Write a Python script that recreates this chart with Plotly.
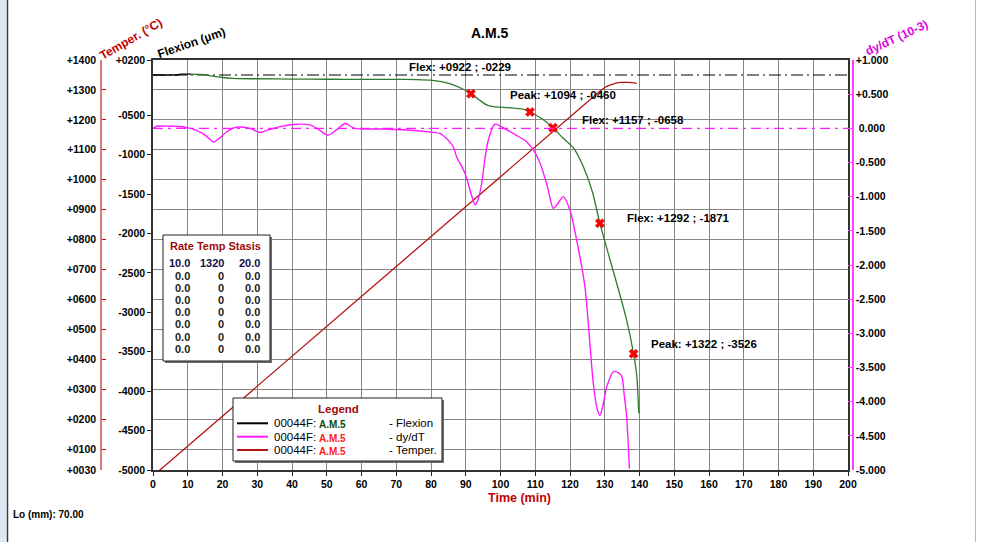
import plotly.graph_objects as go

# ---------------- data ----------------
# Flexion of sample 00044F (µm) vs time (min)
time_flex = [0, 7, 8, 11, 14, 17, 20, 23, 30, 40, 50, 60, 70, 76, 80, 83, 86, 89,
             91.5, 94, 96, 98, 100, 104, 107, 108.5, 111, 113, 115.1, 118, 121, 124,
             126.5, 128.6, 131.5, 134, 136.3, 138.3, 139.2, 139.8]
flexion_um = [10, 10, 20, 22, 18, -5, -22, -32, -38, -42, -44, -45, -45, -48, -55, -75,
              -110, -165, -229, -310, -370, -392, -398, -410, -428, -460, -520, -580,
              -658, -790, -915, -1170, -1480, -1871, -2330, -2720, -3099, -3526, -3800,
              -4280]
flex_first_segment_end = 11  # the opening stretch is drawn black

# Derivative dy/dT (10-3) vs time (min)
time_rate = [0, 1, 5, 9, 12.5, 15, 17.4, 19, 21.2, 24, 27.9, 30.8, 33.5, 36.5, 41.4,
             45.2, 48, 50.4, 52.9, 55.3, 58, 66, 76, 80.7, 82.6, 84.5, 86.4, 87.4, 89.8,
             91.5, 92.7, 93.5, 94.6, 95.5, 96.5, 98.4, 101.7, 104.5, 107.5, 109.5, 111.4,
             113.5, 115.2, 116.5, 118.1, 120, 121.9, 124.3, 125.5, 126.7, 127.8, 128.6,
             129.5, 130.6, 132.5, 134, 134.9, 135.6, 136.3, 137.1]
dydt = [0.0, 0.03, 0.03, 0.02, -0.03, -0.1, -0.2, -0.15, -0.05, 0.015, 0.0, -0.06,
        -0.02, 0.025, 0.06, 0.05, -0.03, -0.1, -0.02, 0.07, 0.0, -0.01, -0.035, -0.06,
        -0.075, -0.15, -0.27, -0.42, -0.66, -0.95, -1.12, -1.05, -0.8, -0.45, -0.17,
        0.06, -0.02, -0.1, -0.195, -0.32, -0.51, -0.85, -1.17, -1.1, -1.0, -1.2, -1.63,
        -2.32, -3.0, -3.73, -4.1, -4.2, -4.05, -3.78, -3.56, -3.58, -3.63, -3.9, -4.22,
        -4.98]

# Furnace temperature (°C) vs time (min)
time_temp = [0, 128, 130, 131.5, 133, 135, 137, 139.2]
temperature_c = [10, 1290, 1308, 1316, 1322, 1325, 1325, 1322]

# Detected events on the flexion curve
event_time = [91.5, 108.5, 115.1, 128.6, 138.3]
event_temp = [922, 1094, 1157, 1292, 1322]
event_flex = [-229, -460, -658, -1871, -3526]
event_kind = ["Flex", "Peak", "Flex", "Flex", "Peak"]

flex_baseline = 10
rate_baseline = 0.0

# Axis ticks
time_ticks = list(range(0, 210, 10))
temp_ticks = [30] + list(range(100, 1500, 100))
flex_ticks = [200] + list(range(-500, -5500, -500))
rate_ticks = [1.0, 0.5, 0.0, -0.5, -1.0, -1.5, -2.0, -2.5, -3.0, -3.5, -4.0, -4.5, -5.0]

# Heating programme table
program_rate = [10.0, 0.0, 0.0, 0.0, 0.0, 0.0, 0.0, 0.0]
program_temp = [1320, 0, 0, 0, 0, 0, 0, 0]
program_stasis = [20.0, 0.0, 0.0, 0.0, 0.0, 0.0, 0.0, 0.0]

legend_ids = ["00044F:", "00044F:", "00044F:"]
legend_sample = ["A.M.5", "A.M.5", "A.M.5"]
legend_names = ["- Flexion", "- dy/dT", "- Temper."]

# ---------------- styling ----------------
W, H = 982, 542
ML, MR, MT, MB = 10, 10, 60, 72
PW, PH = W - ML - MR, H - MT - MB
FONT = "Liberation Sans, Arial, sans-serif"

C_TEMP = "#b31212"
C_RATE = "#ff1aff"
C_FLEX = "#2e7a2e"
C_DARKRED = "#9c0a0a"


def px(x):
    return (x - ML) / PW


def py(y):
    return 1 - (y - MT) / PH


def fmt_int(v):
    return f"{v:+05d}"


def fmt_rate(v):
    return "\u00a00.000" if v == 0 else f"{v:+.3f}"


def text_at(x, y, text, size, color, bold=True, xanchor="center", angle=0):
    font = dict(family=FONT, size=size, color=color)
    if bold:
        font["weight"] = "bold"
    return dict(x=px(x), y=py(y), xref="paper", yref="paper", text=text, showarrow=False,
                xanchor=xanchor, yanchor="middle", textangle=angle, font=font)


fig = go.Figure()

# reference lines
fig.add_trace(go.Scatter(x=[0, 200], y=[flex_baseline] * 2, yaxis="y2", mode="lines",
                         line=dict(color="black", width=1.2, dash="12px,4px,2px,4px"),
                         hoverinfo="skip"))
fig.add_trace(go.Scatter(x=[0, 200], y=[rate_baseline] * 2, yaxis="y3", mode="lines",
                         line=dict(color=C_RATE, width=1.2, dash="10px,5px,3px,5px"),
                         hoverinfo="skip"))

# temperature
fig.add_trace(go.Scatter(x=time_temp, y=temperature_c, yaxis="y", mode="lines",
                         line=dict(color=C_TEMP, width=1.3, shape="spline", smoothing=0.5)))

# dy/dT
fig.add_trace(go.Scatter(x=time_rate, y=dydt, yaxis="y3", mode="lines",
                         line=dict(color=C_RATE, width=1.4, shape="spline", smoothing=0.8)))

# flexion: black opening stretch, then green
k = max(i for i, t in enumerate(time_flex) if t <= flex_first_segment_end)
fig.add_trace(go.Scatter(x=time_flex[:k + 1], y=flexion_um[:k + 1], yaxis="y2", mode="lines",
                         line=dict(color="black", width=1.3)))
fig.add_trace(go.Scatter(x=time_flex[k:], y=flexion_um[k:], yaxis="y2", mode="lines",
                         line=dict(color=C_FLEX, width=1.3, shape="spline", smoothing=0.6)))

# events
fig.add_trace(go.Scatter(x=event_time, y=event_flex, yaxis="y2", mode="markers",
                         marker=dict(symbol="x", size=8, color="#ff0000",
                                     line=dict(width=0.6, color="#cc0000"))))

label_shift = [(-64, 27), (-22, 17), (27, 8), (25, 5), (15, 10)]
annotations = []
for t, temp, fl, kind, (dx, dy) in zip(event_time, event_temp, event_flex, event_kind,
                                       label_shift):
    annotations.append(dict(x=t, y=fl, xref="x", yref="y2",
                            text=f"{kind}: {fmt_int(temp)} ; {fmt_int(fl)}",
                            showarrow=False, xanchor="left", yanchor="middle",
                            xshift=dx, yshift=dy,
                            font=dict(family=FONT, size=11.5, color="black", weight="bold")))

# titles
annotations += [
    text_at(490, 33, "A.M.5", 14, "black"),
    text_at(131, 39, "Temper. (°C)", 12, "#c40000", angle=-30),
    text_at(191, 43, "Flexion (µm)", 12, "black", angle=-19),
    text_at(896, 38, "dy/dT (10-3)", 12, "#e000e0", angle=-25),
    text_at(519, 498, "Time (min)", 12.5, "#c40000"),
    text_at(11, 514, "Lo (mm): 70.00", 10, "black", xanchor="left"),
]

shapes = []
# window border
shapes.append(dict(type="rect", xref="paper", yref="paper", x0=px(0), x1=px(6.5),
                   y0=py(H), y1=py(0), fillcolor="#dfe7f5", line=dict(width=0)))
shapes.append(dict(type="line", xref="paper", yref="paper", x0=px(7.5), x1=px(7.5),
                   y0=py(H), y1=py(0), line=dict(color="#3c3c3c", width=1.5)))
shapes.append(dict(type="line", xref="paper", yref="paper", x0=px(975.5), x1=px(975.5),
                   y0=py(H), y1=py(0), line=dict(color="#b8b8b8", width=1)))


def box(x0, y0, x1, y1):
    shapes.append(dict(type="rect", xref="paper", yref="paper", x0=px(x0 + 2), x1=px(x1 + 2),
                       y0=py(y1 + 2), y1=py(y0 + 2), fillcolor="#6e6e6e",
                       line=dict(width=0)))
    shapes.append(dict(type="rect", xref="paper", yref="paper", x0=px(x0), x1=px(x1),
                       y0=py(y1), y1=py(y0), fillcolor="white",
                       line=dict(color="#202020", width=1)))


# heating programme table
box(163, 235, 270, 361)
annotations.append(text_at(215, 246, "Rate Temp Stasis", 11, C_DARKRED))
row_y = [263.3, 275.5, 287.7, 299.9, 312.1, 324.3, 336.5, 348.7]
for i, (r, tp, s) in enumerate(zip(program_rate, program_temp, program_stasis)):
    col = "#10104a" if i == 0 else "#1a1a1a"
    for xr, txt in ((192, f"{r:.1f}"), (226, f"{tp:d}"), (262, f"{s:.1f}")):
        annotations.append(text_at(xr, row_y[i], txt, 11, col, xanchor="right"))

# legend box
box(233, 398, 442, 461)
annotations.append(text_at(338, 409, "Legend", 11.5, C_DARKRED))
legend_line_colors = ["black", C_RATE, C_TEMP]
legend_sample_colors = ["#0b4a0b", "#ff2020", "#ff2020"]
legend_y = [423.3, 436.7, 450]
for ly, lc, sc, lid, ls, ln in zip(legend_y, legend_line_colors, legend_sample_colors,
                                   legend_ids, legend_sample, legend_names):
    shapes.append(dict(type="line", xref="paper", yref="paper", x0=px(237), x1=px(268),
                       y0=py(ly), y1=py(ly), line=dict(color=lc, width=2)))
    annotations.append(text_at(271.5, ly, lid, 11.5, "black", bold=False, xanchor="left"))
    annotations.append(text_at(317, ly + 1.5, ls, 10, sc, xanchor="left"))
    annotations.append(text_at(386.5, ly, ln, 11.5, "black", bold=False, xanchor="left"))

tick_font = dict(family=FONT, size=10.5, color="black", weight="bold")

fig.update_layout(
    width=W, height=H,
    margin=dict(l=ML, r=MR, t=MT, b=MB, autoexpand=False),
    paper_bgcolor="white", plot_bgcolor="white",
    showlegend=False,
    xaxis=dict(domain=[px(153), px(848)], range=[0, 200], tickvals=time_ticks,
               ticktext=[str(v) for v in time_ticks], tickfont=tick_font,
               ticks="outside", ticklen=4, tickcolor="#222", showline=True,
               linecolor="#333", linewidth=1.5, mirror=True, showgrid=True,
               gridcolor="#858585", gridwidth=1.3, zeroline=False, fixedrange=True),
    yaxis=dict(range=[30, 1400], tickvals=temp_ticks, ticktext=[fmt_int(v) for v in temp_ticks],
               anchor="free", position=px(101), side="left", showline=True,
               linecolor="#d87878", linewidth=1.5, ticks="inside", ticklen=4,
               tickcolor=C_TEMP, tickfont=tick_font, showgrid=True, gridcolor="#858585",
               gridwidth=1.3, zeroline=False, ticklabelstandoff=2),
    yaxis2=dict(range=[-5000, 200], tickvals=flex_ticks,
                ticktext=[fmt_int(v) for v in flex_ticks], overlaying="y", anchor="x",
                side="left", showline=True, linecolor="#333", linewidth=1.5, mirror=True,
                ticks="outside", ticklen=4, tickcolor="#222", tickfont=tick_font,
                showgrid=False, zeroline=False),
    yaxis3=dict(range=[-5, 1], tickvals=rate_ticks, ticktext=[fmt_rate(v) for v in rate_ticks],
                overlaying="y", anchor="free", position=px(853), side="right",
                showline=True, linecolor="#ff40ff", linewidth=1.5, ticks="inside",
                ticklen=4, tickcolor="#ff40ff", tickfont=tick_font, showgrid=False,
                zeroline=False),
    annotations=annotations,
    shapes=shapes,
)

fig.write_html("out.html")
